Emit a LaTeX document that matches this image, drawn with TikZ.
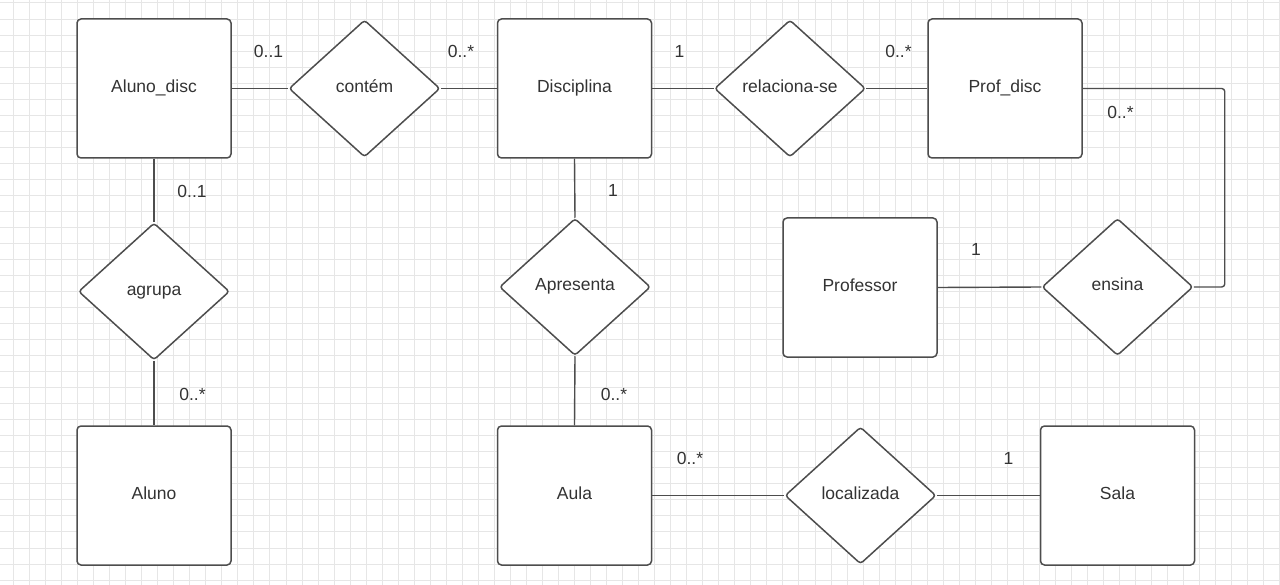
\documentclass[tikz,border=0pt]{standalone}
\usepackage{fontspec}
\setmainfont{Liberation Sans}
\usetikzlibrary{shapes.geometric}
\definecolor{lc}{HTML}{4D4D4D}
\definecolor{tc}{HTML}{333333}
\definecolor{gc}{HTML}{E6E6E6}
\tikzset{
  ent/.style={draw=lc, line width=1.5pt, fill=white, rectangle, rounded corners=4pt,
    minimum width=154pt, minimum height=139pt, inner sep=0pt, text=tc,
    text height=8pt, text depth=0.5pt,
    font=\fontsize{17.5}{21}\selectfont},
  rel/.style={draw=lc, line width=1.5pt, fill=white, diamond, rounded corners=3pt,
    minimum width=151pt, minimum height=137pt, inner sep=0pt, text=tc,
    text height=8pt, text depth=0.5pt,
    font=\fontsize{17.5}{21}\selectfont},
  lbl/.style={text=tc, inner sep=0pt, font=\fontsize{17.5}{21}\selectfont},
  conn/.style={draw=lc, line width=1.4pt},
  gridline/.style={draw=gc, line width=1pt}
}
\begin{document}
\begin{tikzpicture}[x=1pt,y=-1pt]
\useasboundingbox (0,0) rectangle (1280,585);
\fill[white] (0,0) rectangle (1280,585);
\foreach \k in {0,...,79} \draw[gridline] ({13.5+16.03*\k},0) -- ({13.5+16.03*\k},585);
\foreach \k in {0,...,36} \draw[gridline] (0,{3+16.03*\k}) -- (1280,{3+16.03*\k});

% entities
\node[ent] (alunodisc) at (154,88.5) {Aluno\_disc};
\node[ent] (disciplina) at (574.5,88.5) {Disciplina};
\node[ent] (profdisc) at (1005,88.5) {Prof\_disc};
\node[ent] (professor) at (860,287.5) {Professor};
\node[ent] (aluno) at (154,495.5) {Aluno};
\node[ent] (aula) at (574.5,495.5) {Aula};
\node[ent] (sala) at (1117.5,495.5) {Sala};

% relationships
\node[rel] (contem) at (364.5,88.5) {contém};
\node[rel] (relaciona) at (790,88.5) {relaciona-se};
\node[rel] (agrupa) at (154,291.5) {agrupa};
\node[rel] (apresenta) at (575,287) {Apresenta};
\node[rel] (ensina) at (1117.5,287) {ensina};
\node[rel] (localizada) at (860.5,495.5) {localizada};

% connectors
\draw[conn] (alunodisc.east) -- (contem.west);
\draw[conn] (contem.east) -- (disciplina.west);
\draw[conn] (disciplina.east) -- (relaciona.west);
\draw[conn] (relaciona.east) -- (profdisc.west);
\draw[conn, rounded corners=3pt] (profdisc.east) -- ++(142,0) |- (ensina.east);
\draw[conn] (professor.east) -- (ensina.west);
\draw[conn] (alunodisc.south) -- (agrupa.north);
\draw[conn] (agrupa.south) -- (aluno.north);
\draw[conn] (disciplina.south) -- (apresenta.north);
\draw[conn] (apresenta.south) -- (aula.north);
\draw[conn] (aula.east) -- (localizada.west);
\draw[conn] (localizada.east) -- (sala.west);

% cardinality labels
\node[lbl] (c1) at (268.5,51.5) {0..1};
\node[lbl] (c2) at (461,51.5) {0..*};
\node[lbl] (c3) at (679.5,51.5) {1};
\node[lbl] (c4) at (898.5,51.5) {0..*};
\node[lbl] (c5) at (1120.5,112) {0..*};
\node[lbl] (c6) at (976,249) {1};
\node[lbl] (c7) at (192,191) {0..1};
\node[lbl] (c8) at (192.5,394) {0..*};
\node[lbl] (c9) at (613,190) {1};
\node[lbl] (c10) at (614,394) {0..*};
\node[lbl] (c11) at (690,458.5) {0..*};
\node[lbl] (c12) at (1008.5,458.5) {1};
\end{tikzpicture}
\end{document}
